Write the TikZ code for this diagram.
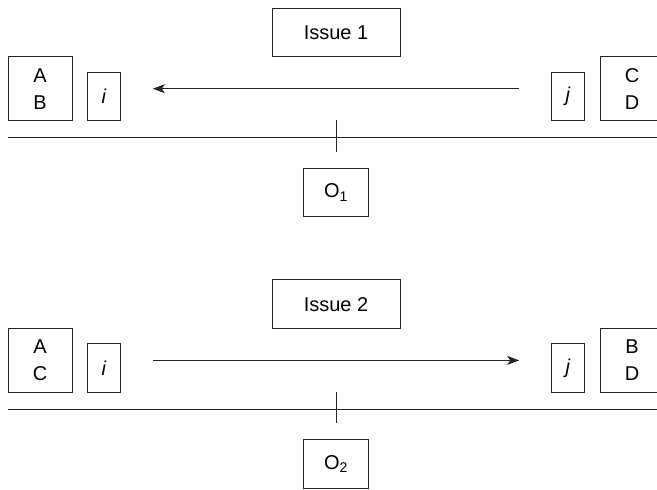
\documentclass[tikz,border=0pt]{standalone}
\usepackage{fontspec}
\setmainfont{Liberation Sans}
\usetikzlibrary{arrows.meta}

\begin{document}
\begin{tikzpicture}[x=1pt,y=1pt,line width=1pt,
    bx/.style={draw=black!85,line width=1pt,inner sep=0pt,align=center,
        font=\fontsize{20}{27}\selectfont},
    party/.style={bx,minimum width=64pt,minimum height=64pt},
    agent/.style={bx,minimum width=32.6pt,minimum height=48.4pt},
    issue/.style={bx,minimum width=128pt,minimum height=48.5pt},
    outc/.style={bx,minimum width=65pt,minimum height=48.4pt},
    offer/.style={draw=black!85,-{Stealth[length=12pt,width=9pt,inset=3pt]},shorten <=80.3pt,shorten >=80.3pt}]
                \useasboundingbox (0,0) rectangle (657,490);
                % first issue
                \node[issue] (iss1) at (336,457.5) {Issue 1};
                \node[party] (lft1) at (40,401.3) {A\\B};
                \node[agent] (i1) at (104,393.5) {\textit{i}};
                \node[agent] (j1) at (568,393.5) {\textit{j}};
                \node[party] (rgt1) at (632,401.3) {C\\D};
                \node[outc] (o1) at (336,297.5) {O\textsubscript{1}};
                \draw[offer] (rgt1) -- (lft1);
                \draw[black!85] ([yshift=-16.4pt]lft1.south west) -- ([yshift=-16.4pt]rgt1.south east);
                \draw[black!85] ([yshift=16pt]o1.north) -- ++(0,31.6);
                % second issue
                \node[issue] (iss2) at (336,185.8) {Issue 2};
                \node[party] (lft2) at (40,129.6) {A\\C};
                \node[agent] (i2) at (104,121.8) {\textit{i}};
                \node[agent] (j2) at (568,121.8) {\textit{j}};
                \node[party] (rgt2) at (632,129.6) {B\\D};
                \node[outc] (o2) at (336,25.8) {O\textsubscript{2}};
                \draw[offer] (lft2) -- (rgt2);
                \draw[black!85] ([yshift=-16.4pt]lft2.south west) -- ([yshift=-16.4pt]rgt2.south east);
                \draw[black!85] ([yshift=16pt]o2.north) -- ++(0,31.6);
            \end{tikzpicture}
\end{document}
